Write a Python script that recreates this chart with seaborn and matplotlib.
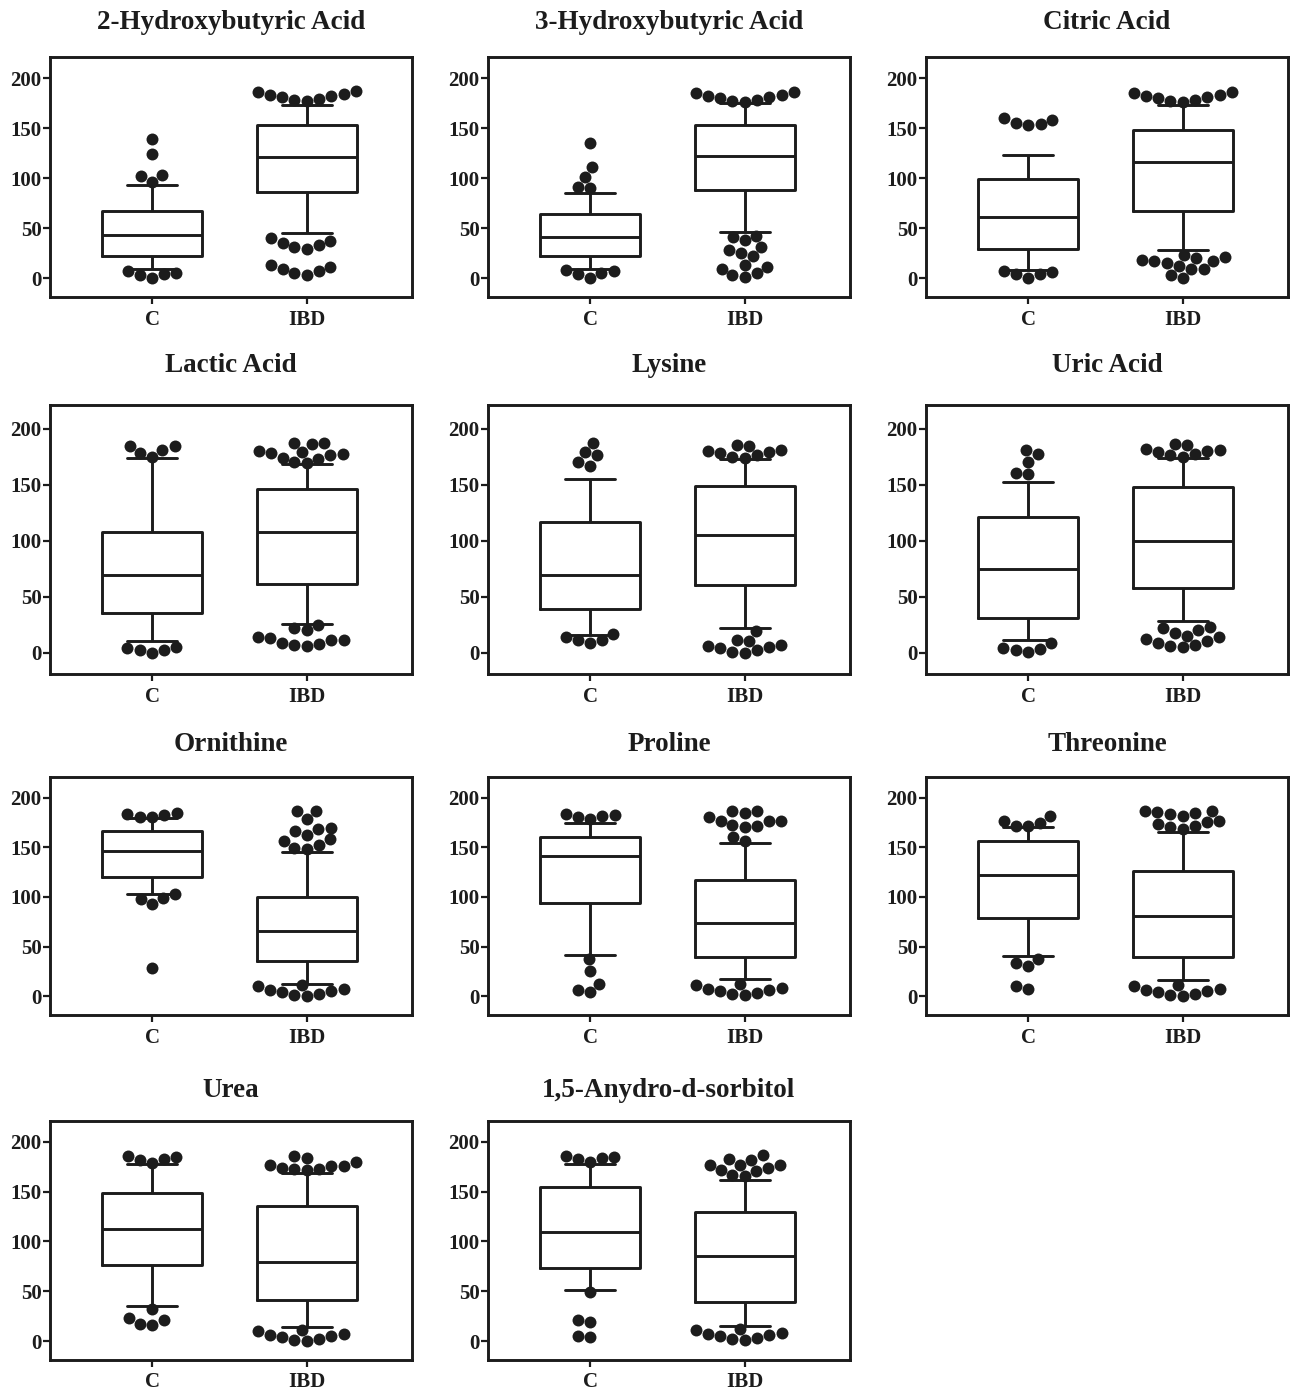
import numpy as np
import pandas as pd
import seaborn as sns
import matplotlib.pyplot as plt

# ---------- data ----------
METABOLITES = [
    '2-Hydroxybutyric Acid', '3-Hydroxybutyric Acid', 'Citric Acid',
    'Lactic Acid', 'Lysine', 'Uric Acid',
    'Ornithine', 'Proline', 'Threonine',
    'Urea', '1,5-Anydro-d-sorbitol',
]
GROUPS = ['C', 'IBD']

# box summary per group: [lower whisker, Q1, median, Q3, upper whisker]
C_BOX = {
    '2-Hydroxybutyric Acid': [9, 22, 43, 67, 93],
    '3-Hydroxybutyric Acid': [9, 22, 41, 64, 85],
    'Citric Acid': [8, 29, 61, 99, 123],
    'Lactic Acid': [10, 35, 69, 108, 174],
    'Lysine': [16, 39, 69, 117, 155],
    'Uric Acid': [11, 31, 75, 121, 152],
    'Ornithine': [103, 120, 146, 167, 180],
    'Proline': [42, 94, 141, 160, 175],
    'Threonine': [41, 79, 122, 156, 171],
    'Urea': [35, 76, 113, 149, 178],
    '1,5-Anydro-d-sorbitol': [51, 73, 110, 155, 178],
}
IBD_BOX = {
    '2-Hydroxybutyric Acid': [45, 86, 121, 153, 173],
    '3-Hydroxybutyric Acid': [46, 88, 122, 153, 175],
    'Citric Acid': [28, 67, 116, 148, 173],
    'Lactic Acid': [26, 61, 108, 146, 168],
    'Lysine': [22, 60, 105, 149, 173],
    'Uric Acid': [28, 58, 100, 148, 174],
    'Ornithine': [12, 35, 66, 100, 145],
    'Proline': [17, 39, 74, 117, 154],
    'Threonine': [16, 39, 81, 126, 166],
    'Urea': [14, 41, 79, 136, 169],
    '1,5-Anydro-d-sorbitol': [15, 39, 85, 130, 162],
}

# points outside the whiskers
C_OUT = {
    '2-Hydroxybutyric Acid': [139, 124, 103, 102, 96, 7, 4, 0, 3, 5],
    '3-Hydroxybutyric Acid': [135, 111, 101, 91, 90, 8, 5, 0, 4, 7],
    'Citric Acid': [158, 154, 153, 155, 160, 7, 4, 0, 4, 6],
    'Lactic Acid': [184, 178, 175, 181, 184, 5, 2, 0, 2, 4],
    'Lysine': [179, 187, 170, 167, 176, 17, 11, 9, 11, 14],
    'Uric Acid': [181, 177, 170, 160, 159, 9, 3, 1, 2, 4],
    'Ornithine': [185, 183, 181, 181, 184, 103, 98, 93, 99, 28],
    'Proline': [184, 182, 179, 181, 183, 37, 25, 12, 4, 6],
    'Threonine': [182, 175, 172, 172, 177, 33, 30, 37, 7, 10],
    'Urea': [186, 183, 179, 182, 185, 32, 21, 16, 17, 23],
    '1,5-Anydro-d-sorbitol': [185, 183, 180, 184, 186, 49, 21, 19, 4, 5],
}
IBD_OUT = {
    '2-Hydroxybutyric Acid': [177, 178, 179, 181, 182, 183, 184, 186, 187,
                              40, 37, 35, 33, 31, 29, 13, 11, 9, 7, 5, 3],
    '3-Hydroxybutyric Acid': [176, 177, 178, 180, 181, 182, 183, 185, 186,
                              42, 41, 38, 31, 28, 25, 22, 13, 11, 9, 5, 3, 1],
    'Citric Acid': [176, 177, 178, 180, 181, 182, 183, 185, 186,
                    23, 21, 20, 18, 17, 17, 15, 12, 9, 9, 3, 0],
    'Lactic Acid': [187, 187, 186, 180, 179, 178, 177, 176, 174, 173, 170, 169,
                    25, 22, 20, 14, 13, 11, 11, 9, 8, 7, 6],
    'Lysine': [174, 175, 176, 178, 179, 180, 181, 184, 185,
               19, 11, 10, 7, 6, 5, 4, 2, 1, 0],
    'Uric Acid': [175, 176, 177, 179, 180, 181, 182, 185, 186,
                  23, 22, 20, 18, 15, 14, 12, 10, 9, 7, 6, 5],
    'Ornithine': [187, 187, 179, 170, 169, 167, 163, 158, 156, 152, 149, 148,
                  11, 10, 7, 6, 5, 4, 2, 1, 0],
    'Proline': [187, 187, 185, 181, 177, 177, 177, 173, 172, 171, 160, 156,
                12, 11, 8, 7, 6, 5, 3, 2, 1],
    'Threonine': [187, 187, 186, 185, 184, 182, 177, 176, 174, 172, 171, 169,
                  11, 10, 7, 6, 5, 4, 2, 1, 0],
    'Urea': [186, 184, 180, 177, 176, 176, 174, 173, 173, 172,
             11, 10, 7, 6, 5, 4, 2, 1, 0],
    '1,5-Anydro-d-sorbitol': [187, 183, 182, 177, 177, 177, 174, 172, 171, 167, 166,
                              12, 11, 8, 7, 6, 5, 3, 2, 1],
}

# ---------- layout (pixels of the 1291x1391 canvas) ----------
FIG_W, FIG_H = 1291, 1391
COL_LEFT = [50, 488, 926]
AX_W = 362
ROW_TOP = [57, 405, 777, 1121]
ROW_BOTTOM = [297, 674, 1015, 1360]
TITLE_PAD = [20, 23.5, 18.5, 17]
XTICK_PAD = [4.5, 4.5, 4.5, 3.5]
INK = '#1c1c1c'


def long_frame(c_vals, ibd_vals):
    return pd.DataFrame({
        'group': ['C'] * len(c_vals) + ['IBD'] * len(ibd_vals),
        'value': list(c_vals) + list(ibd_vals),
    })


def main():
    sns.set_style('ticks')
    plt.rcParams['font.family'] = ['Liberation Serif', 'DejaVu Serif']
    plt.rcParams['font.weight'] = 'bold'
    plt.rcParams['axes.titleweight'] = 'bold'

    fig = plt.figure(figsize=(FIG_W / 100, FIG_H / 100), dpi=100)

    for i, name in enumerate(METABOLITES):
        row, col = divmod(i, 3)
        top, bottom = ROW_TOP[row], ROW_BOTTOM[row]
        left = COL_LEFT[col]
        ax = fig.add_axes([left / FIG_W, 1 - bottom / FIG_H,
                           AX_W / FIG_W, (bottom - top) / FIG_H])

        # boxes: whiskers span the given min/max exactly
        sns.boxplot(data=long_frame(C_BOX[name], IBD_BOX[name]), x='group', y='value',
                    order=GROUPS, whis=np.inf, width=0.65, fill=False,
                    color=INK, linewidth=2.1, ax=ax)
        # outlying points as a beeswarm
        sns.swarmplot(data=long_frame(C_OUT[name], IBD_OUT[name]), x='group', y='value',
                      order=GROUPS, color=INK, size=8.6, linewidth=0, ax=ax)

        ax.set_xlim(-0.66, 1.68)
        ax.set_ylim(-19, 221)
        ax.set_yticks([0, 50, 100, 150, 200])
        ax.set_xlabel('')
        ax.set_ylabel('')
        ax.set_title(name, fontsize=19.5, fontweight='bold', pad=TITLE_PAD[row], color=INK)
        for sp in ax.spines.values():
            sp.set_visible(True)
            sp.set_linewidth(2.1)
            sp.set_color(INK)
        ax.tick_params(axis='both', direction='out', length=5, width=1.6,
                       colors=INK, labelsize=15)
        ax.tick_params(axis='y', pad=1)
        ax.tick_params(axis='x', pad=XTICK_PAD[row])
        for lbl in ax.get_xticklabels() + ax.get_yticklabels():
            lbl.set_fontweight('bold')

    fig.savefig('out.png', dpi=100)
    plt.close(fig)


if __name__ == '__main__':
    main()
